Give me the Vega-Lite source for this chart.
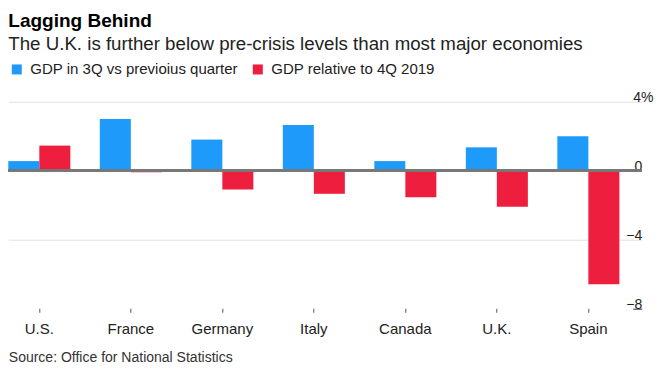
{
  "$schema": "https://vega.github.io/schema/vega-lite/v6.json",
  "width": 633.4,
  "height": 206.6,
  "autosize": {"type": "none"},
  "padding": {"left": 8.3, "top": 101.7, "right": 22.3, "bottom": 71.7},
  "background": "white",
  "config": {
    "font": "Liberation Sans",
    "view": {"stroke": null},
    "legend": {"padding": 0}
  },
  "title": {
    "text": "Lagging Behind",
    "subtitle": "The U.K. is further below pre-crisis levels than most major economies",
    "anchor": "start",
    "frame": "group",
    "fontSize": 19,
    "fontWeight": "bold",
    "color": "#000000",
    "subtitleFontSize": 18.7,
    "subtitleColor": "#222222",
    "subtitlePadding": 4,
    "offset": 8
  },
  "data": {
    "values": [
      {"country": "U.S.", "series": "GDP in 3Q vs previoius quarter", "value": 0.55},
      {"country": "U.S.", "series": "GDP relative to 4Q 2019", "value": 1.45},
      {"country": "France", "series": "GDP in 3Q vs previoius quarter", "value": 3.0},
      {"country": "France", "series": "GDP relative to 4Q 2019", "value": -0.1},
      {"country": "Germany", "series": "GDP in 3Q vs previoius quarter", "value": 1.8},
      {"country": "Germany", "series": "GDP relative to 4Q 2019", "value": -1.1},
      {"country": "Italy", "series": "GDP in 3Q vs previoius quarter", "value": 2.65},
      {"country": "Italy", "series": "GDP relative to 4Q 2019", "value": -1.35},
      {"country": "Canada", "series": "GDP in 3Q vs previoius quarter", "value": 0.55},
      {"country": "Canada", "series": "GDP relative to 4Q 2019", "value": -1.55},
      {"country": "U.K.", "series": "GDP in 3Q vs previoius quarter", "value": 1.35},
      {"country": "U.K.", "series": "GDP relative to 4Q 2019", "value": -2.1},
      {"country": "Spain", "series": "GDP in 3Q vs previoius quarter", "value": 2.0},
      {"country": "Spain", "series": "GDP relative to 4Q 2019", "value": -6.6}
    ]
  },
  "layer": [
    {
      "mark": {"type": "bar"},
      "encoding": {
        "x": {
          "field": "country",
          "type": "nominal",
          "sort": ["U.S.", "France", "Germany", "Italy", "Canada", "U.K.", "Spain"],
          "scale": {"paddingInner": 0.322, "paddingOuter": 0.122, "align": 0},
          "axis": {
            "orient": "bottom",
            "domain": false,
            "ticks": true,
            "tickSize": 4,
            "tickColor": "#555555",
            "labelAngle": 0,
            "labelFontSize": 15,
            "labelColor": "#222222",
            "labelPadding": 9,
            "title": "Source: Office for National Statistics",
            "titleAnchor": "start",
            "titleAlign": "left",
            "titleFontSize": 14,
            "titleFontWeight": "normal",
            "titleColor": "#333333",
            "titlePadding": 14
          }
        },
        "xOffset": {
          "field": "series",
          "type": "nominal",
          "scale": {"paddingInner": 0, "paddingOuter": 0}
        },
        "y": {
          "field": "value",
          "type": "quantitative",
          "scale": {"domain": [-8, 4], "nice": false},
          "axis": {
            "orient": "right",
            "values": [-8, -4, 0, 4],
            "title": null,
            "domain": false,
            "ticks": false,
            "grid": true,
            "gridColor": {"condition": {"test": "datum.value == -8", "value": "#333333"}, "value": "#e3e3e3"},
            "gridDash": {"condition": {"test": "datum.value == -8", "value": [9, 2000]}, "value": []},
            "gridWidth": 1,
            "labelFontSize": 14,
            "labelColor": "#222222",
            "labelAlign": {"condition": {"test": "datum.value == 4", "value": "left"}, "value": "right"},
            "labelPadding": {"condition": {"test": "datum.value == 4", "value": -9}, "value": 0},
            "labelBaseline": "alphabetic",
            "labelDy": -9,
            "labelFlush": false,
            "labelOverlap": false,
            "labelBound": false,
            "labelExpr": "datum.value == 4 ? '4%' : datum.label"
          }
        },
        "color": {
          "field": "series",
          "type": "nominal",
          "scale": {
            "domain": ["GDP in 3Q vs previoius quarter", "GDP relative to 4Q 2019"],
            "range": ["#1e9bfa", "#ee1f3e"]
          },
          "legend": {
            "orient": "none",
            "legendX": 1,
            "legendY": -40,
            "direction": "horizontal",
            "title": null,
            "symbolType": "square",
            "symbolSize": 100,
            "symbolStrokeWidth": 0,
            "labelFontSize": 15,
            "labelLimit": 0,
            "labelColor": "#222222",
            "labelOffset": 6,
            "columnPadding": 12
          }
        }
      }
    },
    {
      "mark": {"type": "rule", "color": "#777777", "strokeWidth": 1.5},
      "encoding": {"y": {"datum": 0}}
    }
  ]
}
